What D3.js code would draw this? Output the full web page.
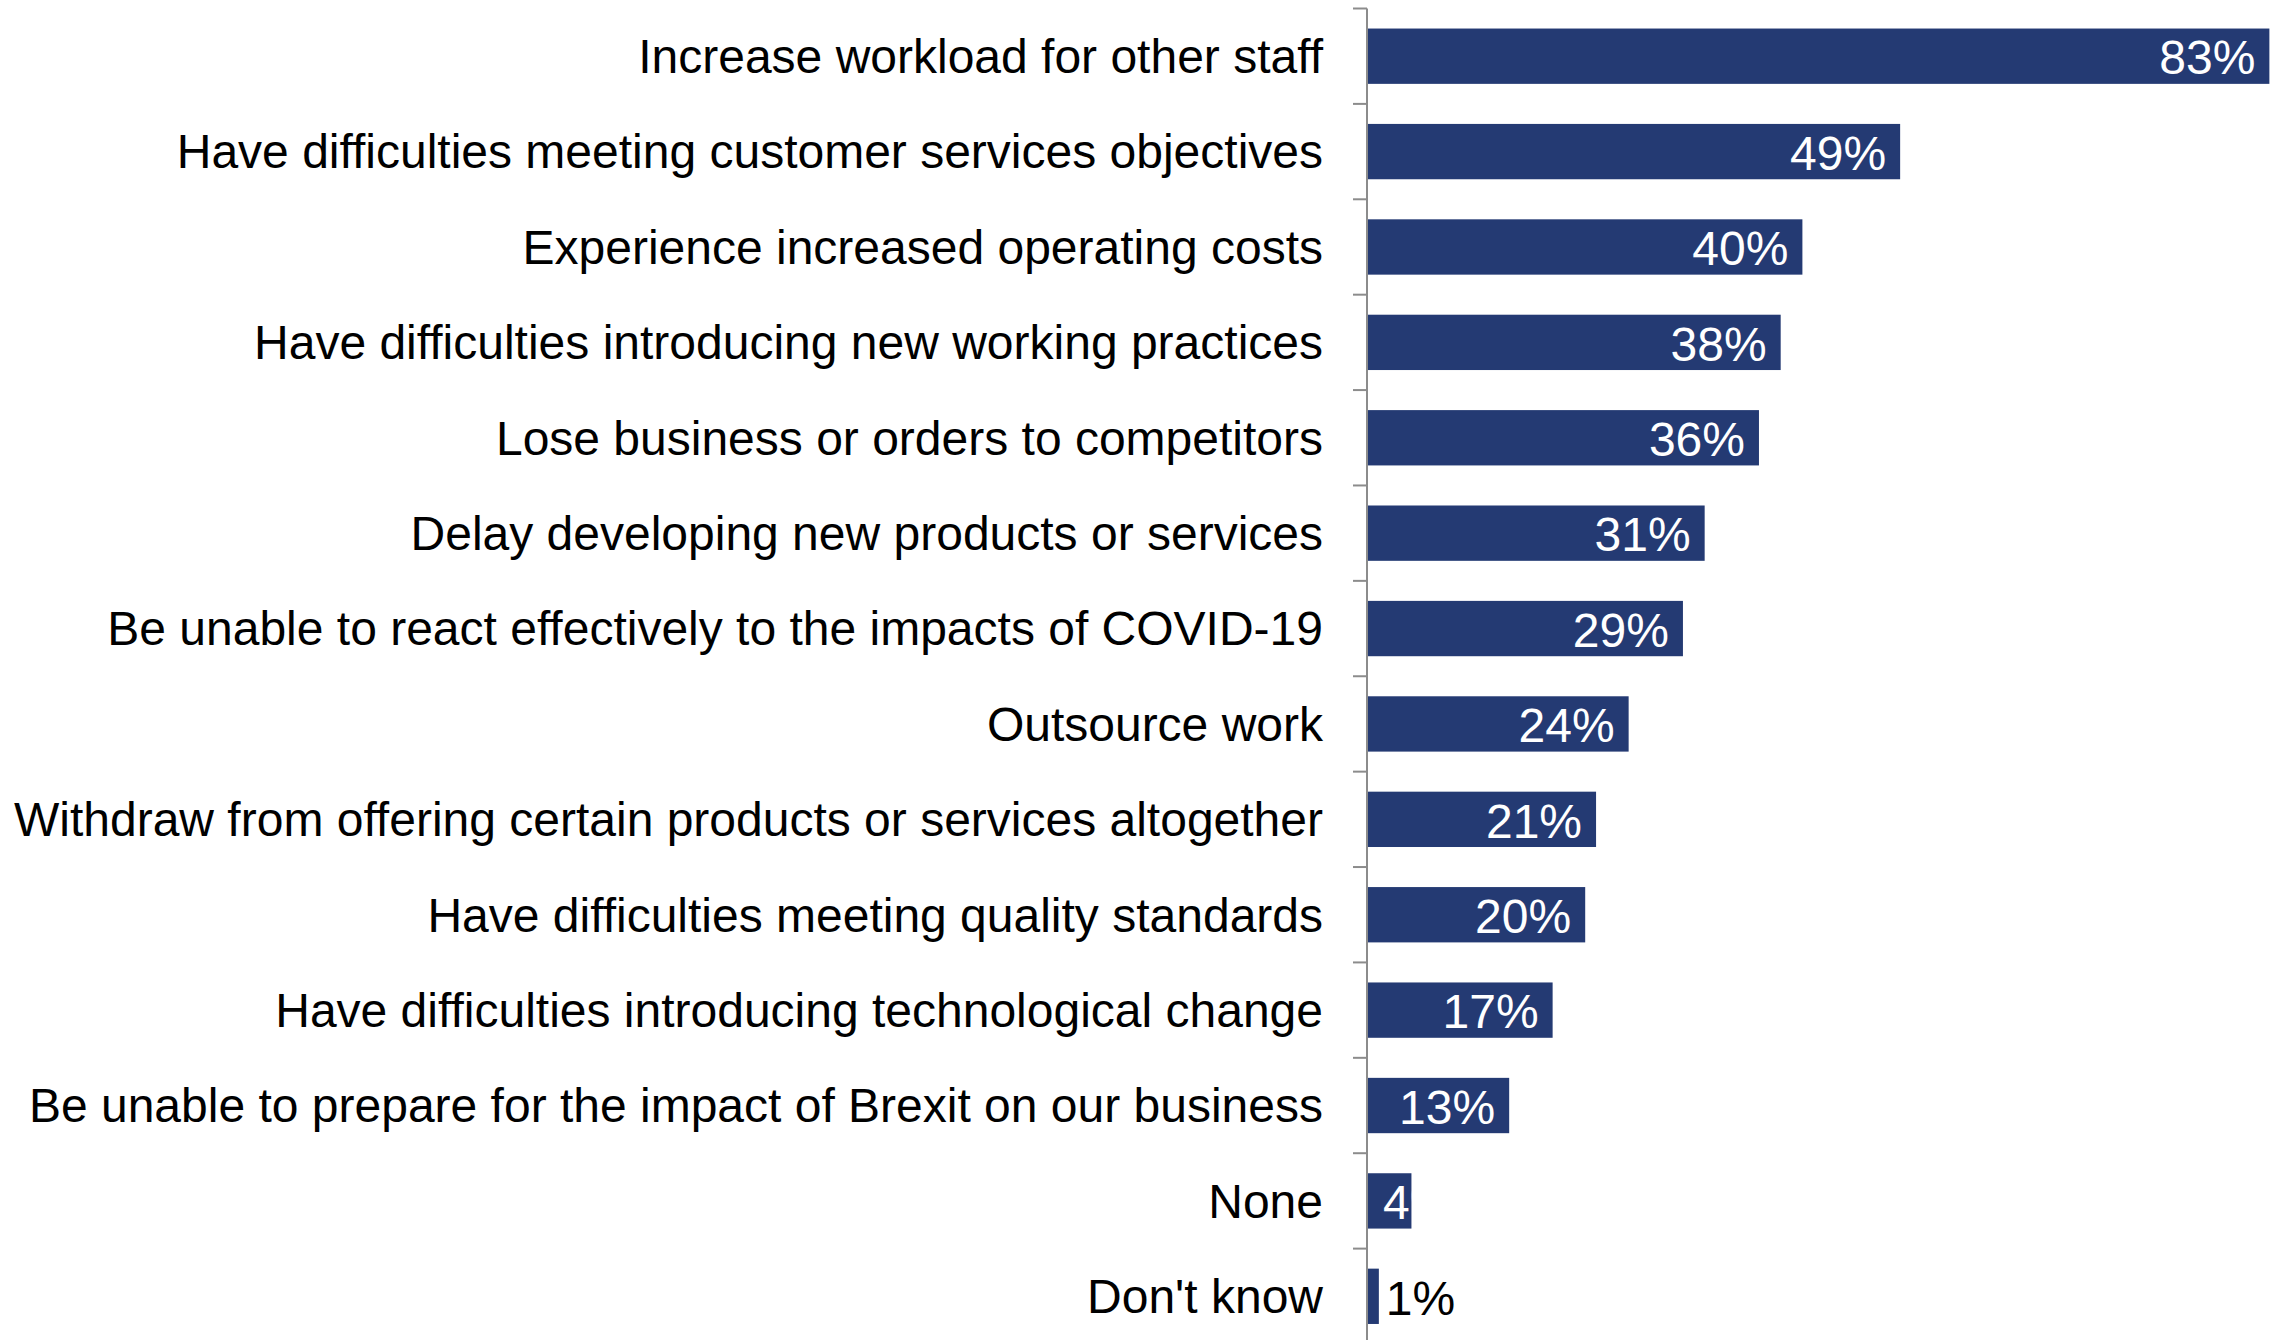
<!DOCTYPE html>
<html>
<head>
<meta charset="utf-8">
<script src="https://cdn.jsdelivr.net/npm/d3@7"></script>
<style>
  html, body { margin: 0; padding: 0; background: #fff; }
  svg { display: block; }
  text { font-family: "Liberation Sans", Arial, sans-serif; }
</style>
</head>
<body>
<script>
// Consequences of skills shortfalls, share of establishments (%)
const categories = [
  "Increase workload for other staff",
  "Have difficulties meeting customer services objectives",
  "Experience increased operating costs",
  "Have difficulties introducing new working practices",
  "Lose business or orders to competitors",
  "Delay developing new products or services",
  "Be unable to react effectively to the impacts of COVID-19",
  "Outsource work",
  "Withdraw from offering certain products or services altogether",
  "Have difficulties meeting quality standards",
  "Have difficulties introducing technological change",
  "Be unable to prepare for the impact of Brexit on our business",
  "None",
  "Don't know"
];
const values = [83, 49, 40, 38, 36, 31, 29, 24, 21, 20, 17, 13, 4, 1];
const valueLabels = values.map(v => v + "%");

const W = 2285, H = 1340;
const axisX = 1367;
const barColor = "#243a73";
const fontSize = 48;

const svg = d3.select("body").append("svg")
  .attr("width", W).attr("height", H);

const x = d3.scaleLinear().domain([0, 100]).range([axisX + 1, axisX + 1 + 1086]);
const y = d3.scaleBand().domain(categories).range([8.5, 1344]).paddingInner(0.42).paddingOuter(0.21);

// category axis with outward ticks at band boundaries
const step = y.step();
const bounds = d3.range(categories.length + 1).map(i => y.range()[0] + i * step);
const axisG = svg.append("g");
axisG.append("line")
  .attr("x1", axisX).attr("x2", axisX)
  .attr("y1", bounds[0]).attr("y2", bounds[bounds.length - 1])
  .attr("stroke", "#8c8c8c").attr("stroke-width", 2);
axisG.selectAll("line.tick").data(bounds).join("line")
  .attr("class", "tick")
  .attr("x1", axisX - 14).attr("x2", axisX)
  .attr("y1", d => d).attr("y2", d => d)
  .attr("stroke", "#8c8c8c").attr("stroke-width", 2);

// category labels
svg.append("g").selectAll("text").data(categories).join("text")
  .attr("x", 1323)
  .attr("y", d => y(d) + y.bandwidth() / 2)
  .attr("dy", "0.35em")
  .attr("text-anchor", "end")
  .attr("font-size", fontSize)
  .attr("fill", "#000")
  .text(d => d);

const rows = categories.map((c, i) => ({ c, v: values[i], label: valueLabels[i], i }));

// clip paths so labels never spill past their bar
const defs = svg.append("defs");
rows.forEach(r => {
  defs.append("clipPath").attr("id", "clip" + r.i)
    .append("rect")
    .attr("x", x(0)).attr("y", y(r.c))
    .attr("width", x(r.v) - x(0)).attr("height", y.bandwidth());
});

// bars
svg.append("g").selectAll("rect").data(rows).join("rect")
  .attr("x", x(0))
  .attr("y", d => y(d.c))
  .attr("height", y.bandwidth())
  .attr("width", d => x(d.v) - x(0))
  .attr("fill", barColor);

// value labels
const lab = svg.append("g");
rows.forEach(r => {
  const cy = y(r.c) + y.bandwidth() / 2;
  const t = lab.append("text")
    .attr("y", cy).attr("dy", "0.38em")
    .attr("font-size", fontSize)
    .text(r.label);
  if (r.v >= 10) {
    t.attr("x", x(r.v) - 14).attr("text-anchor", "end").attr("fill", "#fff");
  } else if (r.v >= 3) {
    t.attr("x", x(0) + 15).attr("text-anchor", "start").attr("fill", "#fff")
      .attr("clip-path", "url(#clip" + r.i + ")");
  } else {
    t.attr("x", x(r.v) + 7).attr("text-anchor", "start").attr("fill", "#000");
  }
});
</script>
</body>
</html>
